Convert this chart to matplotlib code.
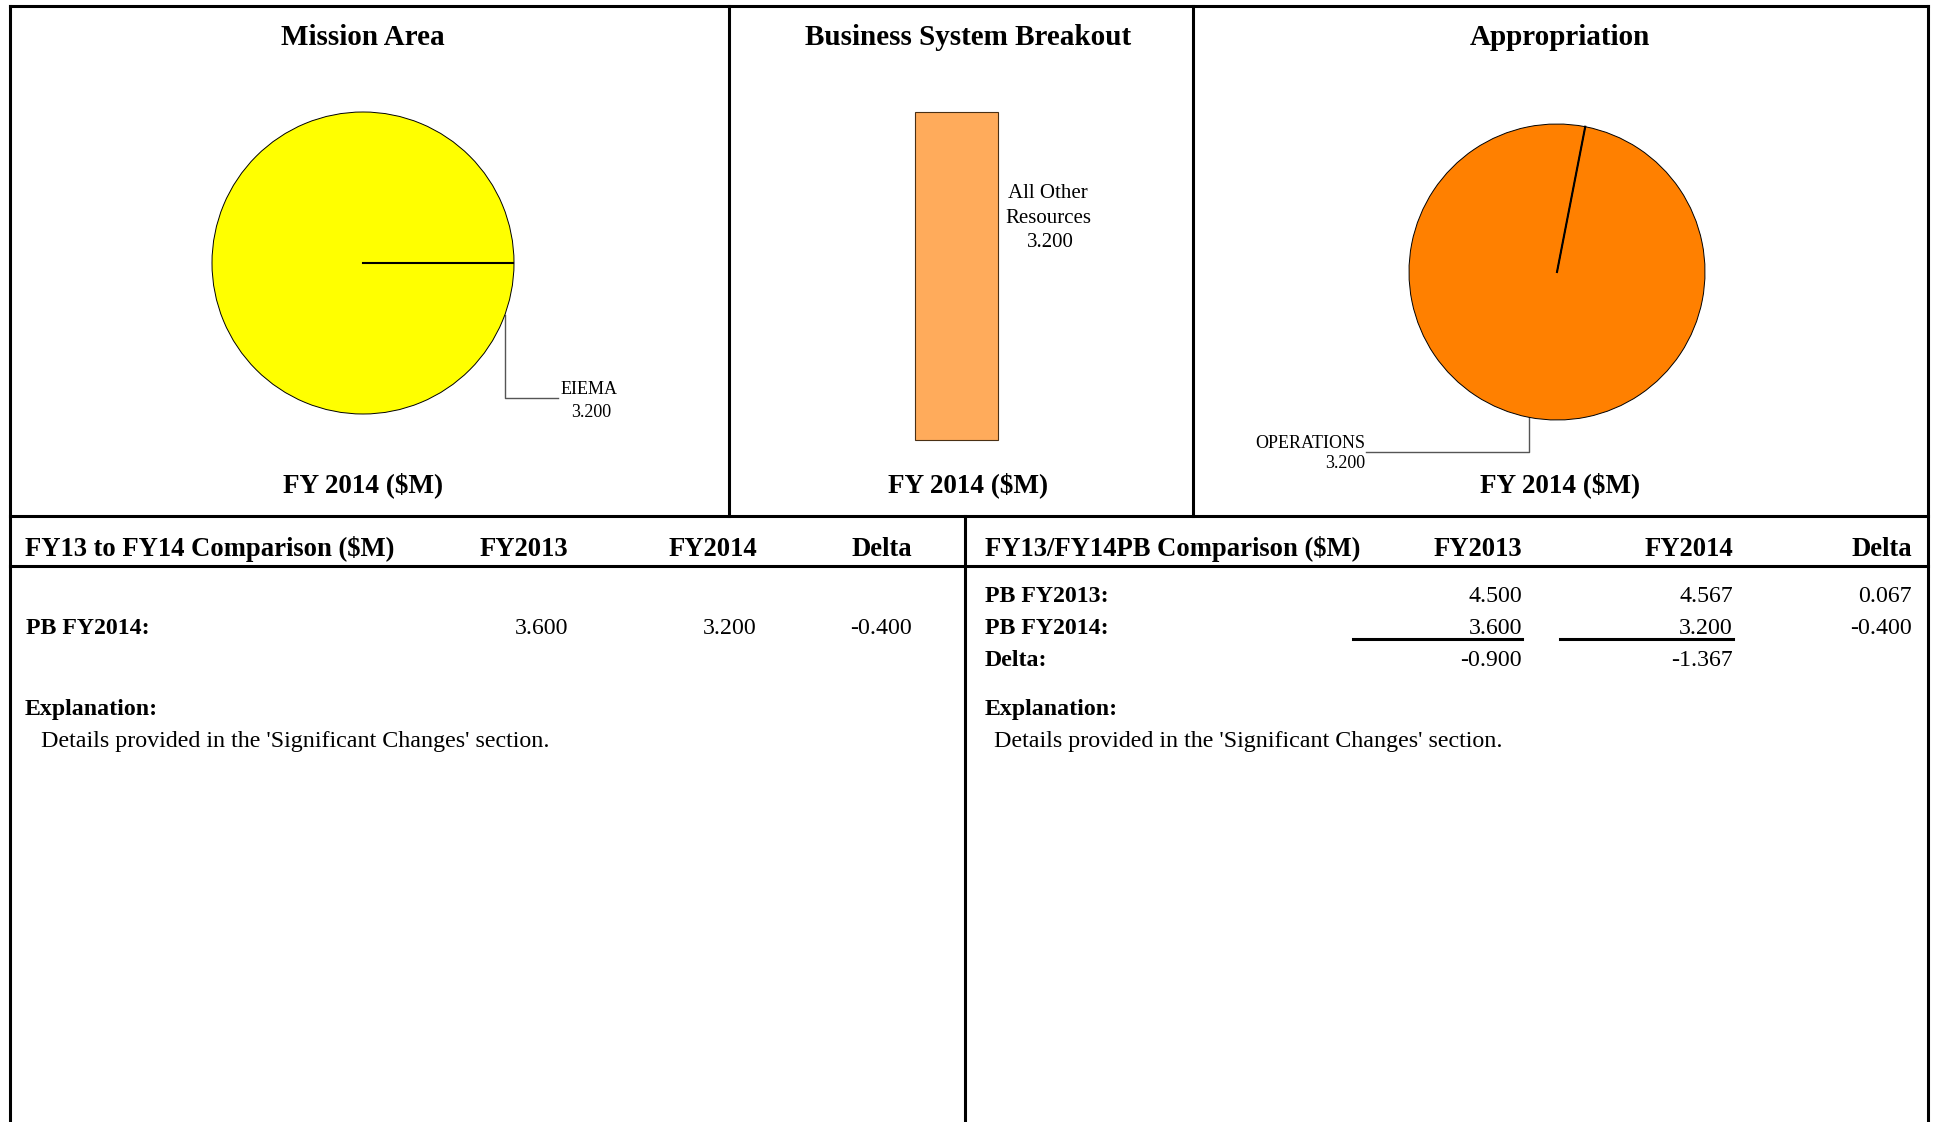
import matplotlib.pyplot as plt
import numpy as np

plt.rcParams['font.family'] = ['Liberation Serif', 'DejaVu Serif']

W, H = 1937, 1122

# chart data
mission_labels = ['EIEMA']
mission_values = [3.200]
system_labels = ['All Other', 'Resources']
system_values = [3.200]
approp_labels = ['OPERATIONS']
approp_values = [3.200]

col_names = ['FY2013', 'FY2014', 'Delta']
left_title = 'FY13 to FY14 Comparison ($M)'
left_rows = ['PB FY2014:']
left_vals = [[3.600, 3.200, -0.400]]
right_title = 'FY13/FY14PB Comparison ($M)'
right_rows = ['PB FY2013:', 'PB FY2014:', 'Delta:']
right_vals = [[4.500, 4.567, 0.067],
              [3.600, 3.200, -0.400],
              [-0.900, -1.367, None]]
explanation = "Details provided in the 'Significant Changes' section."

fig = plt.figure(figsize=(W / 100, H / 100), dpi=100)

# overlay axes in pixel coords for frame + text
ov = fig.add_axes([0, 0, 1, 1])
ov.set_xlim(0, W)
ov.set_ylim(H, 0)
ov.axis('off')


def px_axes(x0, y0, x1, y1):
    return fig.add_axes([x0 / W, 1 - y1 / H, (x1 - x0) / W, (y1 - y0) / H])


def hline(y, x0, x1, lw=2.2):
    ov.plot([x0, x1], [y, y], color='black', lw=lw, solid_capstyle='projecting')


def vline(x, y0, y1, lw=2.2):
    ov.plot([x, x], [y0, y1], color='black', lw=lw, solid_capstyle='projecting')


# frame
hline(6, 10, 1928)
vline(10, 6, H)
vline(1928, 6, H)
vline(729, 6, 516)
vline(1193, 6, 516)
hline(516, 10, 1928)
hline(566, 10, 1928)
vline(965, 516, H)

# panel titles
for cx, title in [(363, 'Mission Area'), (968, 'Business System Breakout'), (1560, 'Appropriation')]:
    ov.text(cx, 37, title, ha='center', va='center', fontsize=21, fontweight='bold')
    ov.text(cx, 485, 'FY 2014 ($M)', ha='center', va='center', fontsize=19.5, fontweight='bold')


def draw_pie(cx, cy, r, values, color, start):
    ax = px_axes(cx - r, cy - r, cx + r, cy + r)
    ax.pie(values, colors=[color], startangle=start,
           wedgeprops=dict(edgecolor='black', linewidth=0.7))
    a = np.radians(start)
    ax.plot([0, np.cos(a)], [0, np.sin(a)], color='black', lw=1.5)
    ax.set_xlim(-1, 1)
    ax.set_ylim(-1, 1)
    ax.axis('off')
    return ax


# Mission Area pie
c1x, c1y, r1 = 363, 263, 151
draw_pie(c1x, c1y, r1, mission_values, '#FFFF00', 0)
a = np.radians(-20)
ax_, ay_ = c1x + r1 * np.cos(a), c1y - r1 * np.sin(a)
ov.plot([ax_, ax_, 558], [ay_, 398, 398], color='#555555', lw=1)
ov.text(589, 389, mission_labels[0], ha='center', va='center', fontsize=13)
ov.text(591, 412, f'{mission_values[0]:.3f}', ha='center', va='center', fontsize=13)

# Business System bar
axb = px_axes(915, 112, 998, 440)
bars = axb.bar([0], system_values, width=1, color='#FFAB5B', edgecolor='#4a3015', linewidth=0.8)
for b in bars:
    b.set_clip_on(False)
axb.set_xlim(-0.5, 0.5)
axb.set_ylim(0, max(system_values))
axb.axis('off')
ov.text(1048, 193, system_labels[0], ha='center', va='center', fontsize=15)
ov.text(1048, 218, system_labels[1], ha='center', va='center', fontsize=15)
ov.text(1050, 242, f'{system_values[0]:.3f}', ha='center', va='center', fontsize=15)

# Appropriation pie
c3x, c3y, r3 = 1557, 272, 148
draw_pie(c3x, c3y, r3, approp_values, '#FF8000', 79)
a = np.radians(259)
bx_, by_ = c3x + r3 * np.cos(a), c3y - r3 * np.sin(a)
ov.plot([bx_, bx_, 1366], [by_, 452, 452], color='#555555', lw=1)
ov.text(1365, 443, approp_labels[0], ha='right', va='center', fontsize=13)
ov.text(1365, 463, f'{approp_values[0]:.3f}', ha='right', va='center', fontsize=13)

# bottom left table
left_cols_x = [568, 757, 912]
ov.text(25, 549, left_title, ha='left', va='center', fontsize=19.2, fontweight='bold')
for x, name in zip(left_cols_x, col_names):
    ov.text(x, 549, name, ha='right', va='center', fontsize=19.2, fontweight='bold')
for i, (row, vals) in enumerate(zip(left_rows, left_vals)):
    y = 628 + 32 * i
    ov.text(26, y, row, ha='left', va='center', fontsize=17.2, fontweight='bold')
    for x, v in zip(left_cols_x, vals):
        ov.text(x, y, f'{v:.3f}', ha='right', va='center', fontsize=17.2)
ov.text(25, 709, 'Explanation:', ha='left', va='center', fontsize=17.2, fontweight='bold')
ov.text(41, 741, explanation, ha='left', va='center', fontsize=17.3)

# bottom right table
right_cols_x = [1522, 1733, 1912]
ov.text(985, 549, right_title, ha='left', va='center', fontsize=19.2, fontweight='bold')
for x, name in zip(right_cols_x, col_names):
    ov.text(x, 549, name, ha='right', va='center', fontsize=19.2, fontweight='bold')
for i, (row, vals) in enumerate(zip(right_rows, right_vals)):
    y = 596 + 32 * i
    ov.text(985, y, row, ha='left', va='center', fontsize=17.2, fontweight='bold')
    for x, v in zip(right_cols_x, vals):
        if v is not None:
            ov.text(x, y, f'{v:.3f}', ha='right', va='center', fontsize=17.2)
hline(639, 1353, 1522, lw=2.2)
hline(639, 1560, 1733, lw=2.2)
ov.text(985, 709, 'Explanation:', ha='left', va='center', fontsize=17.2, fontweight='bold')
ov.text(994, 741, explanation, ha='left', va='center', fontsize=17.3)

fig.savefig('out.png', dpi=100)
